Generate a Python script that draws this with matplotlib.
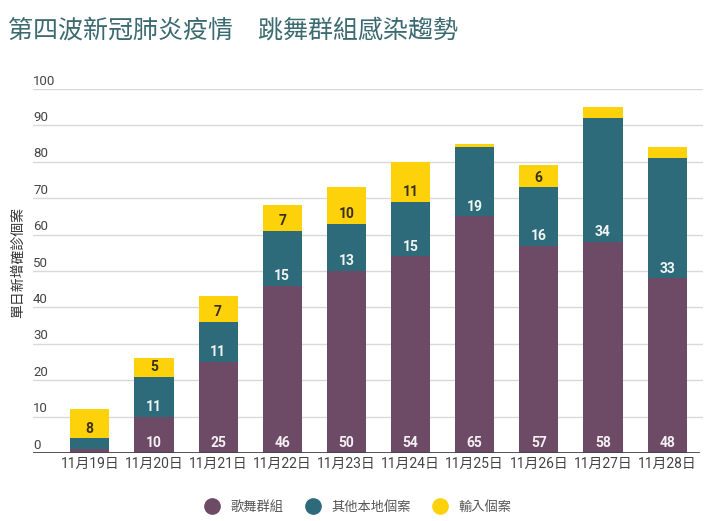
import matplotlib
matplotlib.use("Agg")
import matplotlib.pyplot as plt
from matplotlib.lines import Line2D
import numpy as np

plt.rcParams['font.family'] = ['Roboto', 'Noto Sans CJK TC', 'DejaVu Sans']

dates = ["11月19日", "11月20日", "11月21日", "11月22日", "11月23日",
         "11月24日", "11月25日", "11月26日", "11月27日", "11月28日"]
dance = [1, 10, 25, 46, 50, 54, 65, 57, 58, 48]
local_other = [3, 11, 11, 15, 13, 15, 19, 16, 34, 33]
imported = [8, 5, 7, 7, 10, 11, 1, 6, 3, 3]
series_names = ["歌舞群組", "其他本地個案", "輸入個案"]
colors = ["#6d4a66", "#2e6b7a", "#fdd20a"]
label_colors = ["#f4f0f4", "#f0f4f4", "#3a3020"]
yticks = [0, 10, 20, 30, 40, 50, 60, 70, 80, 90, 100]

fig = plt.figure(figsize=(7.1, 5.21), dpi=100)
ax = fig.add_axes([33/710, (521-453)/521, (703-33)/710, (453-89)/521])

x = np.arange(len(dates))
bottom = np.zeros(len(dates))
for vals, c, lc in zip([dance, local_other, imported], colors, label_colors):
    vals = np.array(vals, dtype=float)
    ax.bar(x, vals, bottom=bottom, width=0.61, color=c, zorder=3)
    for xi, b, v in zip(x, bottom, vals):
        if v >= 5:
            ax.annotate(f"{int(v)}", (xi, b), xytext=(0, 7), textcoords='offset points',
                        ha='center', va='center', fontsize=10, fontweight='bold',
                        color=lc, family=['Roboto', 'DejaVu Sans'], zorder=4)
    bottom += vals

ax.set_xlim(-0.886, 9.56)
ax.set_ylim(0, 100)
for s in ax.spines.values():
    s.set_visible(False)
ax.set_yticks(yticks)
ax.yaxis.grid(True, color='#d9d9d9', lw=1, zorder=0)
ax.tick_params(axis='y', length=0, labelleft=False)
for t in yticks:
    ax.annotate(str(t), (0.0, t), xycoords=ax.get_yaxis_transform(), xytext=(0, 1),
                textcoords='offset points', ha='left', va='bottom',
                fontsize=9.5, color='#444444', annotation_clip=False)
ax.axhline(0, color='#444444', lw=2, zorder=5, xmax=0.992)

ax.set_xticks(x)
ax.set_xticklabels(dates, fontsize=10, color='#444444')
ax.tick_params(axis='x', length=0, pad=3)

fig.text(18/710, 1 - 262/521, "單日新增確診個案", rotation=90, ha='center', va='center',
         fontsize=10, color='#333333', family=['Noto Sans CJK TC'])

fig.text(8/710, 1 - 31/521, "第四波新冠肺炎疫情　跳舞群組感染趨勢", ha='left', va='center',
         fontsize=18, color='#3b6a70', family=['Noto Sans CJK TC'])

handles = [Line2D([0], [0], marker='o', ls='none', markersize=11, markerfacecolor=c,
                  markeredgecolor=c) for c in colors]
fig.legend(handles, series_names, loc='center', bbox_to_anchor=(0.5, 1 - 507/521),
           ncol=3, frameon=False, labelcolor='#555555',
           handletextpad=0.4, columnspacing=1.2, prop={'family': ['Noto Sans CJK TC'], 'size': 9.5})

fig.savefig("out.png", dpi=100)
